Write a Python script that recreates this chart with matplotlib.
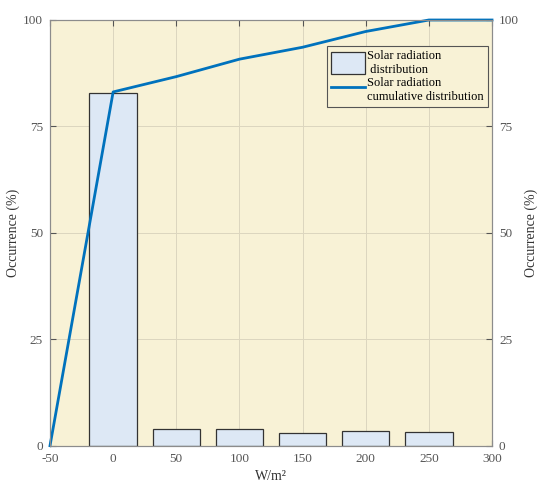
import matplotlib.pyplot as plt
import matplotlib

rcparams = {}
rcparams['font.family'] = 'Liberation Serif'
rcparams['font.size'] = 9
rcparams['axes.linewidth'] = 0.8
rcparams['axes.unicode_minus'] = False
matplotlib.rcParams.update(rcparams)

bins = [0, 50, 100, 150, 200, 250]
occurrence = [82.9, 3.85, 4.0, 2.9, 3.4, 3.3]
cum_x = [-50, 0, 50, 100, 150, 200, 250, 300]
cum_y = [0, 83.1, 86.7, 90.8, 93.6, 97.3, 100, 100]
xticks = [-50, 0, 50, 100, 150, 200, 250, 300]
yticks = [0, 25, 50, 75, 100]

tick_col = '#555555'
spine_col = '#8c8c8c'

fig = plt.figure(figsize=(5.5, 4.91), dpi=100)
ax = fig.add_axes([50/550, 1 - 445.7/491, (492-50)/550, (445.7-20)/491])
ax.set_facecolor('#f8f2d6')

bar_h = ax.bar(bins, occurrence, width=37.5, color='#dde8f5', edgecolor='#333333',
               linewidth=0.9, zorder=2)
line_h, = ax.plot(cum_x, cum_y, color='#0072BD', linewidth=2, zorder=4,
                  clip_on=False)

ax.set_xlim(-50, 300)
ax.set_ylim(0, 100)
ax.set_xticks(xticks)
ax.set_yticks(yticks)
ax.grid(True, color='#dcd6bf', linewidth=0.7, zorder=0)
ax.set_axisbelow(True)
ax.tick_params(direction='in', top=True, length=4, colors=tick_col,
               labelsize=9.5, labelcolor=tick_col, pad=5)
for s in ax.spines.values():
    s.set_color(spine_col)
ax.set_xlabel('W/m²', color='#333333', fontsize=10, labelpad=4)
ax.set_ylabel('Occurrence (%)', color='#333333', fontsize=10, labelpad=2)

ax2 = ax.twinx()
ax2.set_ylim(0, 100)
ax2.set_yticks(yticks)
ax2.tick_params(direction='in', length=4, colors=tick_col,
                labelsize=9.5, labelcolor=tick_col, pad=5)
for s in ax2.spines.values():
    s.set_color(spine_col)
ax2.set_ylabel('Occurrence (%)', color='#333333', fontsize=10, labelpad=4)

leg = ax2.legend([bar_h, line_h],
                 ['Solar radiation\n distribution', 'Solar radiation\ncumulative distribution'],
                 loc='upper right', bbox_to_anchor=(0.990, 0.939), borderaxespad=0,
                 fontsize=9, fancybox=False, framealpha=1, facecolor='#f8f2d6',
                 edgecolor='#555555', handlelength=2.7, handleheight=2.3,
                 borderpad=0.3, labelspacing=0.15, handletextpad=0.2)
leg.get_frame().set_linewidth(0.8)

fig.savefig('out.png', dpi=100)
